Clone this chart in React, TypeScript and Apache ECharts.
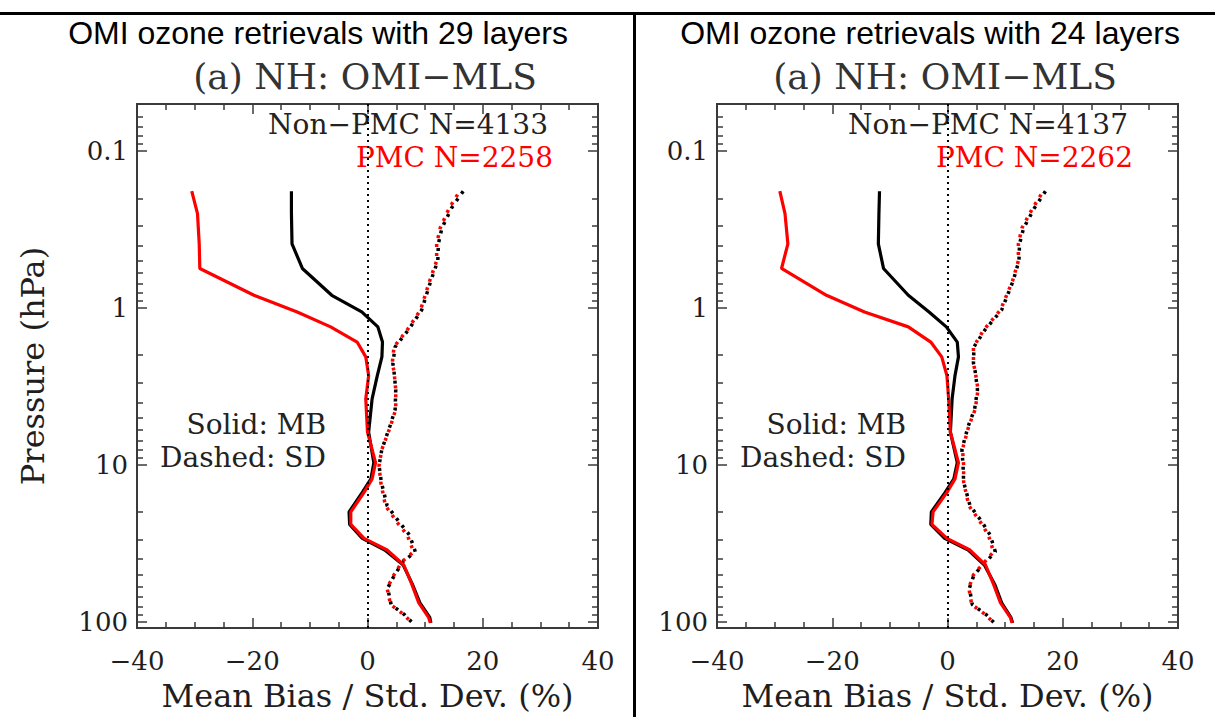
import React, { useEffect, useRef } from "react";
import * as echarts from "echarts";

// Pressure levels (hPa) for the mean-bias and standard-deviation profiles
const P_MB = [0.18, 0.25, 0.39, 0.56, 0.83, 1.06, 1.32, 1.65, 2.05, 2.7, 3.8, 6.2, 9.7, 12.3, 15, 20, 24, 29.5, 35, 43.6, 58, 76, 94, 102];
const P_SD = [0.18, 0.23, 0.31, 0.39, 0.5, 0.67, 1.03, 1.38, 1.77, 2.25, 2.54, 3.32, 4.44, 5.66, 7.96, 10.1, 12.9, 18.2, 23.2, 28.1, 35.9, 41.5, 50.4, 61.2, 78, 90.3, 102];

// 29-layer retrievals
const MB29_NONPMC = [-13.2, -13.2, -13.1, -11.3, -6.2, -1.0, 1.8, 2.6, 2.5, 1.7, 0.8, 0.2, 1.1, 0.6, -0.9, -3.2, -3.1, -0.9, 3.0, 6.2, 7.8, 9.1, 10.8, 11.0];
const MB29_PMC = [-30.5, -29.5, -29.2, -29.1, -19.7, -12.2, -6.4, -1.8, -0.3, 0.2, -0.3, 0.0, 1.4, 0.8, -0.6, -2.9, -2.9, -0.6, 3.4, 6.3, 7.7, 8.9, 10.6, 10.9];
const SD29_NONPMC = [16.6, 14.6, 12.9, 12.3, 12.2, 11.0, 9.4, 7.1, 4.8, 4.4, 4.6, 4.9, 4.8, 3.9, 2.5, 2.0, 2.4, 3.4, 5.5, 7.3, 8.3, 6.2, 4.7, 3.5, 4.1, 6.4, 7.8];
const SD29_PMC = [16.0, 14.2, 12.6, 12.0, 12.0, 10.8, 9.2, 6.9, 4.6, 4.3, 4.6, 4.9, 4.9, 4.0, 2.5, 2.0, 2.3, 3.1, 5.1, 6.9, 8.0, 6.0, 4.6, 3.4, 4.0, 6.3, 7.7];

// 24-layer retrievals
const MB24_NONPMC = [-11.8, -11.9, -12.0, -11.1, -6.8, -3.2, -0.2, 1.7, 1.9, 1.3, 0.8, 0.5, 1.7, 1.1, -0.4, -2.8, -2.9, -0.5, 3.6, 6.4, 8.2, 9.4, 11.0, 11.3];
const MB24_PMC = [-29.1, -28.2, -27.7, -28.8, -21.0, -14.4, -6.8, -2.9, -1.0, -0.1, 0.2, 0.5, 1.9, 1.3, -0.1, -2.5, -2.7, -0.1, 3.9, 6.6, 8.0, 9.2, 10.9, 11.2];
const SD24_NONPMC = [17.0, 15.1, 13.2, 12.5, 12.4, 11.4, 9.4, 6.5, 4.6, 4.5, 4.8, 5.2, 4.7, 3.6, 2.5, 2.7, 2.8, 3.9, 6.0, 7.4, 8.3, 6.7, 4.6, 3.8, 4.3, 6.7, 8.1];
const SD24_PMC = [16.6, 14.8, 12.9, 12.3, 12.3, 11.3, 9.2, 6.3, 4.5, 4.5, 4.8, 5.3, 4.8, 3.7, 2.6, 2.8, 2.8, 3.7, 5.7, 7.1, 8.0, 6.5, 4.5, 3.7, 4.2, 6.6, 8.0];

// Axes
const X_MIN = -40;
const X_MAX = 40;
const X_STEP = 20;
const X_MINOR = [-35, -30, -25, -15, -10, -5, 5, 10, 15, 25, 30, 35];
const P_TOP = 0.05;
const P_BOTTOM = 110;
const Y_MAJOR = [0.1, 1, 10, 100];
const Y_MINOR = [0.06, 0.07, 0.08, 0.09, 0.2, 0.3, 0.4, 0.5, 0.6, 0.7, 0.8, 0.9, 2, 3, 4, 5, 6, 7, 8, 9, 20, 30, 40, 50, 60, 70, 80, 90];

const PANELS = [
  { head: "OMI ozone retrievals with 29 layers", sub: "(a) NH: OMI\u2212MLS", nonLabel: "Non\u2212PMC N=4133", pmcLabel: "PMC N=2258", mbNon: MB29_NONPMC, mbPmc: MB29_PMC, sdNon: SD29_NONPMC, sdPmc: SD29_PMC },
  { head: "OMI ozone retrievals with 24 layers", sub: "(a) NH: OMI\u2212MLS", nonLabel: "Non\u2212PMC N=4137", pmcLabel: "PMC N=2262", mbNon: MB24_NONPMC, mbPmc: MB24_PMC, sdNon: SD24_NONPMC, sdPmc: SD24_PMC },
];

const SERIF = "DejaVu Serif";
const AXIS_COLOR = "#3a3a3a";
const TEXT_COLOR = "#1e1e1e";

const toPairs = (xs: number[], ps: number[]) => ps.map((p, i) => [xs[i], Math.log10(p)]);
const fmtX = (v: number) => (v < 0 ? "\u2212" + Math.abs(v) : String(v));
const fmtP = (v: number) => {
  const p = Math.pow(10, v);
  return p < 1 ? p.toFixed(1) : String(Math.round(p));
};

export default function App() {
  const ref = useRef<HTMLDivElement>(null);
  useEffect(() => {
    if (!ref.current) return;
    const chart = echarts.init(ref.current, null, { renderer: "svg" });
    const GRID_LEFT = [137, 717];
    const GRID_TOP = 104;
    const GRID_W = 461;
    const GRID_H = 525;
    const yMin = Math.log10(P_TOP);
    const yMax = Math.log10(P_BOTTOM);
    const lineStyle = { color: AXIS_COLOR, width: 2 };
    const tickStyle = { color: AXIS_COLOR, width: 1.5 };

    const xAxis: any[] = [];
    const yAxis: any[] = [];
    const series: any[] = [];
    const graphic: any[] = [
      { type: "rect", shape: { x: 0, y: 12, width: 1215, height: 3 }, style: { fill: "#000" } },
      { type: "rect", shape: { x: 633, y: 12, width: 3, height: 705 }, style: { fill: "#000" } },
    ];

    PANELS.forEach((pan, g) => {
      const base = { gridIndex: g, type: "value", min: X_MIN, max: X_MAX, splitLine: { show: false } };
      ["bottom", "top"].forEach((pos) => {
        xAxis.push({
          ...base,
          interval: X_STEP,
          position: pos,
          axisLine: { show: true, onZero: false, lineStyle },
          axisTick: { show: true, inside: true, length: 10, lineStyle: tickStyle },
          axisLabel: pos === "bottom"
            ? { formatter: fmtX, fontFamily: SERIF, fontSize: 26, color: TEXT_COLOR, margin: 20 }
            : { show: false },
          name: pos === "bottom" ? "Mean Bias / Std. Dev. (%)" : "",
          nameLocation: "middle",
          nameGap: 52,
          nameTextStyle: { fontFamily: SERIF, fontSize: 32, color: TEXT_COLOR },
        });
        xAxis.push({
          ...base,
          position: pos,
          axisLine: { show: true, onZero: false, lineStyle },
          axisTick: { show: true, inside: true, length: 6, lineStyle: tickStyle, customValues: X_MINOR },
          axisLabel: { show: false },
        });
      });
      const ybase = { gridIndex: g, type: "value", min: yMin, max: yMax, inverse: true, splitLine: { show: false } };
      ["left", "right"].forEach((pos) => {
        yAxis.push({
          ...ybase,
          position: pos,
          axisLine: { show: true, onZero: false, lineStyle },
          axisTick: { show: true, inside: true, length: 10, lineStyle: tickStyle, customValues: Y_MAJOR.map(Math.log10) },
          axisLabel: pos === "left"
            ? { show: true, customValues: Y_MAJOR.map(Math.log10), formatter: fmtP, fontFamily: SERIF, fontSize: 26, color: TEXT_COLOR, margin: 9 }
            : { show: false },
          name: pos === "left" && g === 0 ? "Pressure (hPa)" : "",
          nameLocation: "middle",
          nameGap: 88,
          nameTextStyle: { fontFamily: SERIF, fontSize: 32, color: TEXT_COLOR },
        });
        yAxis.push({
          ...ybase,
          position: pos,
          axisLine: { show: true, onZero: false, lineStyle },
          axisTick: { show: true, inside: true, length: 6, lineStyle: tickStyle, customValues: Y_MINOR.map(Math.log10) },
          axisLabel: { show: false },
        });
      });

      const xi = g * 4;
      const yi = g * 4;
      const common = { type: "line", xAxisIndex: xi, yAxisIndex: yi, showSymbol: false, symbol: "none", silent: true, smooth: false };
      series.push({
        ...common,
        name: "zero",
        data: [],
        markLine: {
          silent: true,
          symbol: ["none", "none"],
          label: { show: false },
          lineStyle: { color: "#000", width: 2, type: [2, 4] },
          data: [{ xAxis: 0 }],
        },
      });
      series.push({ ...common, name: "SD non-PMC", data: toPairs(pan.sdNon, P_SD), lineStyle: { color: "#000", width: 3.5, type: [3, 6] } });
      series.push({ ...common, name: "SD PMC", data: toPairs(pan.sdPmc, P_SD), lineStyle: { color: "#ff0000", width: 3.5, type: [3, 6], dashOffset: 4.5 } });
      series.push({ ...common, name: "MB non-PMC", data: toPairs(pan.mbNon, P_MB), lineStyle: { color: "#000", width: 3.2 } });
      series.push({ ...common, name: "MB PMC", data: toPairs(pan.mbPmc, P_MB), lineStyle: { color: "#ff0000", width: 3.2 } });

      const gl = GRID_LEFT[g];
      const headX = g === 0 ? 318 : 930;
      const t = (text: string, x: number, y: number, align: string, size: number, fill: string, family = SERIF) => ({
        type: "text",
        style: { text, x, y, align, verticalAlign: "middle", fontFamily: family, fontSize: size, lineHeight: size, fill },
      });
      graphic.push(t(pan.head, headX, 33, "center", 32, "#000", "Liberation Sans"));
      graphic.push(t(pan.sub, gl + 228, 76, "center", 36, "#333"));
      graphic.push(t(pan.nonLabel, gl + 411, 124, "right", 28, "#222"));
      graphic.push(t(pan.pmcLabel, gl + 416, 157, "right", 28, "#ff0000"));
      graphic.push(t("Solid: MB", gl + 189, 424, "right", 28, "#222"));
      graphic.push(t("Dashed: SD", gl + 189, 457, "right", 28, "#222"));
    });

    chart.setOption({
      animation: false,
      backgroundColor: "#fff",
      grid: GRID_LEFT.map((l) => ({ left: l, top: GRID_TOP, width: GRID_W, height: GRID_H, containLabel: false })),
      xAxis,
      yAxis,
      series,
      graphic,
    });
    return () => chart.dispose();
  }, []);
  return <div ref={ref} style={{ position: "fixed", left: 0, top: 0, width: 1215, height: 717, background: "#fff" }} />;
}
